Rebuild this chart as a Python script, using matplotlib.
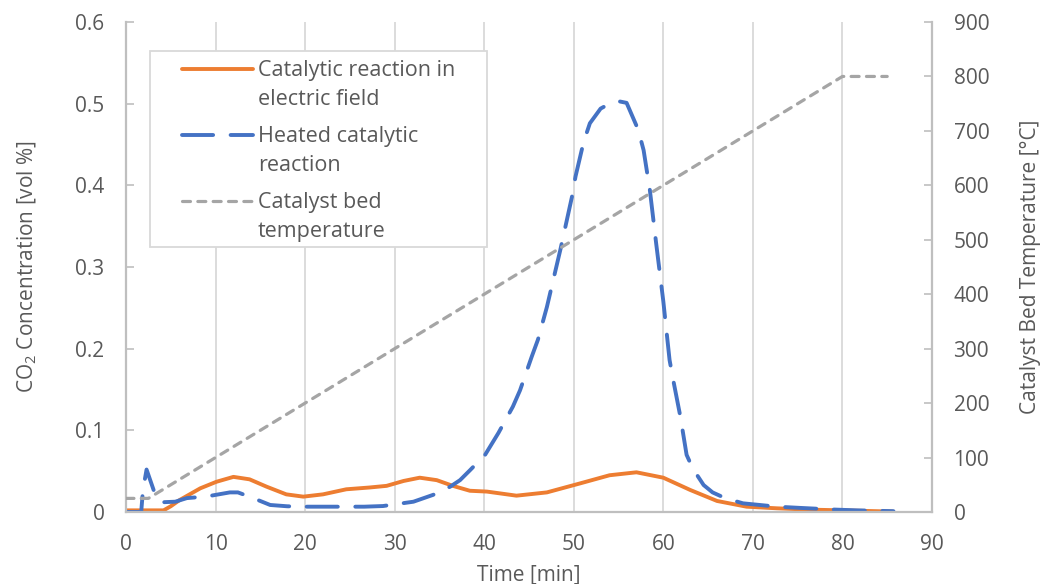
import matplotlib
matplotlib.use("Agg")
import matplotlib.pyplot as plt
from matplotlib.patches import Rectangle
from matplotlib.legend_handler import HandlerLine2D

plt.rcParams['font.family'] = ['Open Sans', 'DejaVu Sans']
plt.rcParams['mathtext.fontset'] = 'custom'
plt.rcParams['mathtext.rm'] = 'Open Sans'
plt.rcParams['mathtext.it'] = 'Open Sans:italic'

# ---------------- data ----------------
t_field = [0, 4.2, 5.0, 6.0, 8.3, 10.1, 12.0, 13.8, 15.7, 17.9, 19.8, 22.0, 24.6,
           27.2, 29.1, 31.0, 32.8, 34.7, 36.5, 38.4, 40.3, 43.6, 47.0, 50.7, 54.0,
           57.0, 60.0, 63.0, 66.0, 69.3, 72.7, 76.0, 80.0, 85.6]
co2_field = [0.002, 0.002, 0.007, 0.0147, 0.029, 0.037, 0.043, 0.040, 0.031, 0.0216,
             0.0188, 0.0216, 0.0278, 0.030, 0.032, 0.038, 0.042, 0.039, 0.032, 0.026,
             0.025, 0.020, 0.024, 0.035, 0.045, 0.0486, 0.042, 0.027, 0.0135, 0.0065,
             0.0045, 0.003, 0.002, 0.0005]

t_heated = [0, 1.7, 1.9, 2.3, 3.4, 4.2, 5.5, 6.8, 9.0, 11.6, 12.5, 14.2, 16.1, 18.0,
            20.2, 26.6, 28.7, 32.1, 34.3, 36.2, 37.3, 38.4, 40.1, 41.6, 43.2, 44.0,
            45.3, 46.0, 47.0, 48.5, 49.8, 50.2, 51.1, 51.8, 53.0, 54.0, 55.0, 55.9,
            57.2, 57.8, 58.5, 59.2, 60.0, 60.7, 61.1, 61.9, 62.6, 63.3, 64.5, 65.5,
            66.9, 68.9, 72.7, 75.3, 79.0, 81.6, 85.7]
co2_heated = [0, 0, 0.027, 0.052, 0.017, 0.012, 0.0126, 0.017, 0.019, 0.024, 0.024,
              0.017, 0.0086, 0.007, 0.0065, 0.0065, 0.0073, 0.0126, 0.021, 0.031,
              0.039, 0.051, 0.070, 0.097, 0.129, 0.149, 0.190, 0.211, 0.251, 0.321,
              0.386, 0.411, 0.453, 0.476, 0.494, 0.500, 0.503, 0.501, 0.468, 0.443,
              0.394, 0.329, 0.258, 0.186, 0.162, 0.117, 0.070, 0.053, 0.033, 0.024,
              0.017, 0.0106, 0.0065, 0.005, 0.003, 0.002, 0.001]

t_temp = [0, 2.5, 80, 85]
temp_bed = [25, 25, 800, 800]

labels = ["Catalytic reaction in\nelectric field",
          "Heated catalytic\nreaction",
          "Catalyst bed\ntemperature"]
x_ticks = [0, 10, 20, 30, 40, 50, 60, 70, 80, 90]
y_ticks = [0, 0.1, 0.2, 0.3, 0.4, 0.5, 0.6]
y2_ticks = [0, 100, 200, 300, 400, 500, 600, 700, 800, 900]

# ---------------- styling ----------------
ORANGE = '#ED7D31'
BLUE = '#4472C4'
GRAY = '#A5A5A5'
TXT = '#595959'
SPINE = '#BFBFBF'
GRID = '#D9D9D9'
FS = 15
LFS = 15.5


class TopLineHandler(HandlerLine2D):
    """Place the legend line level with the first text line of the label."""
    def __init__(self, shift, **kw):
        super().__init__(**kw)
        self.shift = shift

    def create_artists(self, legend, orig_handle, xdescent, ydescent, width,
                       height, fontsize, trans):
        arts = super().create_artists(legend, orig_handle, xdescent, ydescent,
                                      width, height, fontsize, trans)
        for a in arts:
            a.set_ydata([y + self.shift for y in a.get_ydata()])
        return arts


fig = plt.figure(figsize=(10.48, 5.84), dpi=100)
ax = fig.add_axes([0.1202, 0.1233, 0.7691, 0.8390])
ax2 = ax.twinx()

ax.plot(t_field, co2_field, color=ORANGE, lw=2.8, solid_capstyle='round',
        solid_joinstyle='round', label=labels[0])
ax.plot(t_heated, co2_heated, color=BLUE, lw=2.8, dashes=(8, 4.5),
        dash_capstyle='round', label=labels[1])
ax2.plot(t_temp, temp_bed, color=GRAY, lw=2.3, dashes=(2.5, 2.3),
         dash_capstyle='round', label=labels[2])

ax.set_xlim(0, 90)
ax.set_ylim(0, 0.6)
ax2.set_ylim(0, 900)
ax.set_xticks(x_ticks)
ax.set_yticks(y_ticks)
ax2.set_yticks(y2_ticks)
ax.set_xticklabels([str(v) for v in x_ticks])
ax.set_yticklabels(['0' if v == 0 else f'{v:.1f}' for v in y_ticks])
ax2.set_yticklabels([str(v) for v in y2_ticks])

ax.grid(axis='x', color=GRID, lw=1.3)
ax.set_axisbelow(True)

for a in (ax, ax2):
    a.spines['top'].set_visible(False)
ax2.spines['left'].set_visible(False)
ax2.spines['bottom'].set_visible(False)
ax.spines['right'].set_visible(False)
for s in ('left', 'bottom'):
    ax.spines[s].set_color(SPINE)
    ax.spines[s].set_linewidth(1.6)
ax2.spines['right'].set_color(SPINE)
ax2.spines['right'].set_linewidth(1.6)

ax.tick_params(axis='x', length=0, pad=16, labelsize=FS, labelcolor=TXT)
ax.tick_params(axis='y', direction='in', length=6, color=SPINE, width=1.2,
               pad=15.5, labelsize=FS, labelcolor=TXT)
ax2.tick_params(axis='y', direction='in', length=6, color=SPINE, width=1.2,
                pad=15.5, labelsize=FS, labelcolor=TXT)

ax.set_xlabel('Time [min]', fontsize=FS, color=TXT, labelpad=7)
ax.set_ylabel('CO$_{\\mathrm{2}}$ Concentration [vol %]', fontsize=FS, color=TXT,
              labelpad=26)
ax2.set_ylabel('Catalyst Bed Temperature [°C]', fontsize=FS, color=TXT, labelpad=22)

# legend box
ax2.add_patch(Rectangle((0.0298, 0.541), 0.418, 0.400, transform=ax.transAxes,
                        facecolor='white', edgecolor=GRID, lw=1.3, zorder=5))
h1, l1 = ax.get_legend_handles_labels()
h2, l2 = ax2.get_legend_handles_labels()
hm = {h: TopLineHandler(shift=12.0) for h in h1 + h2}
leg = ax2.legend(h1 + h2, l1 + l2, loc='upper left', bbox_to_anchor=(0.0695, 0.922),
                 bbox_transform=ax.transAxes, frameon=False, fontsize=LFS,
                 handlelength=3.3, handletextpad=0.23, borderpad=0, borderaxespad=0,
                 labelspacing=0.74, handler_map=hm)
leg.set_zorder(6)
for txt in leg.get_texts():
    txt.set_color(TXT)
    txt.set_linespacing(1.5)

fig.savefig('out.png', dpi=100)
